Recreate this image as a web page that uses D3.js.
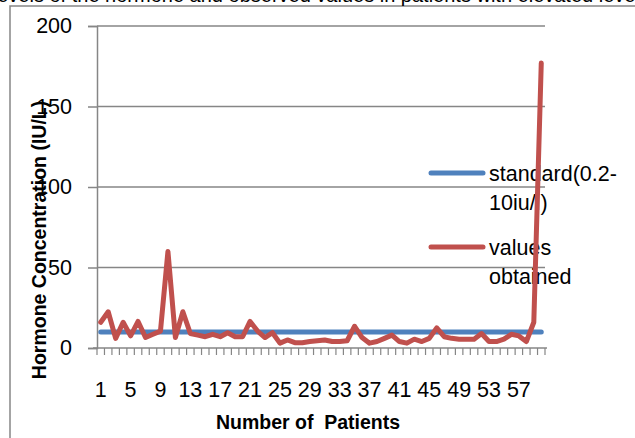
<!DOCTYPE html>
<html>
<head>
<meta charset="utf-8">
<script src="https://cdn.jsdelivr.net/npm/d3@7"></script>
<style>
  html, body { margin: 0; padding: 0; background: #fff; }
  svg { display: block; }
  text { font-family: "Liberation Sans", Arial, sans-serif; }
</style>
</head>
<body>
<svg id="chart" width="635" height="438"></svg>
<script>
// ---- data ----
const patients = d3.range(1, 61);
const standardValues = patients.map(() => 10);
const obtainedValues = [16, 22.5, 6, 16, 7.5, 16.5, 6.5, 8.5, 10.5, 60,
  6.5, 22.5, 9, 8, 7, 8.5, 7, 9.5, 7, 7,
  16.5, 10.5, 6.5, 9.5, 3, 5, 3.3, 3.3, 4, 4.5,
  5, 4, 4, 4.5, 13.5, 6.5, 3, 4, 6, 8,
  4, 3, 5.5, 4, 6, 12.5, 7, 6, 5.5, 5.5,
  5.5, 9, 4, 4, 5.5, 8.5, 7.5, 4, 16, 177];
const yTicks = [0, 50, 100, 150, 200];
const xTickLabels = [1, 5, 9, 13, 17, 21, 25, 29, 33, 37, 41, 45, 49, 53, 57];
const seriesNames = ["standard(0.2-\n10iu/l)", "values\nobtained"];
const seriesColors = ["#4F81BD", "#C0504D"];
const titleText = "Levels of the hormone and observed values in patients with elevated levels";
const xTitle = "Number of  Patients";
const yTitle = "Hormone Concentration (IU/L)";

// ---- layout ----
const svg = d3.select("#chart");
const pLeft = 97, pRight = 545, pTop = 26, pBottom = 348;
const x = d3.scaleBand().domain(patients).range([pLeft, pRight]).padding(0);
const y = d3.scaleLinear().domain([0, 200]).range([pBottom, pTop]);
const grid = "#868686";

// chart border
svg.append("rect").attr("x", 10).attr("y", 6).attr("width", 640).attr("height", 450)
  .attr("fill", "none").attr("stroke", grid).attr("stroke-width", 1.5);

// clipped title
svg.append("text").attr("x", 318).attr("y", 2).attr("text-anchor", "middle")
  .attr("font-size", 20).attr("fill", "#000").text(titleText);

// gridlines
svg.append("g").selectAll("line").data(yTicks.filter(d => d > 0)).join("line")
  .attr("x1", pLeft).attr("x2", pRight)
  .attr("y1", d => y(d)).attr("y2", d => y(d))
  .attr("stroke", grid).attr("stroke-width", 1.5);

// y axis
const yAxis = svg.append("g").attr("transform", `translate(${pLeft},0)`)
  .call(d3.axisLeft(y).tickValues(yTicks).tickSize(9).tickPadding(16));
yAxis.select(".domain").attr("stroke", grid).attr("stroke-width", 1.5);
yAxis.selectAll(".tick line").attr("stroke", grid).attr("stroke-width", 1.5);
yAxis.selectAll(".tick text").attr("font-size", 21.5).attr("fill", "#000")
  .attr("font-family", "Liberation Sans, Arial, sans-serif");

// x axis
const xAxis = svg.append("g").attr("transform", `translate(0,${pBottom})`)
  .call(d3.axisBottom(x).tickValues(xTickLabels).tickSize(0).tickPadding(34));
xAxis.select(".domain").attr("stroke", grid).attr("stroke-width", 1.5)
  .attr("d", `M${pLeft - 4},0H${pRight + 2}`);
xAxis.selectAll(".tick text").attr("font-size", 21.5).attr("fill", "#000")
  .attr("font-family", "Liberation Sans, Arial, sans-serif");
// category boundary ticks
const bounds = patients.map(p => x(p)).concat([x(60) + x.bandwidth()]);
svg.append("g").selectAll("line").data(bounds).join("line")
  .attr("x1", d => d).attr("x2", d => d)
  .attr("y1", pBottom).attr("y2", pBottom + 7)
  .attr("stroke", grid).attr("stroke-width", 1.2);

// axis titles
svg.append("text").attr("x", 308).attr("y", 429).attr("text-anchor", "middle")
  .attr("font-size", 19.5).attr("font-weight", "bold").attr("fill", "#000")
  .style("white-space", "pre").text(xTitle);
svg.append("text").attr("transform", "translate(46,240) rotate(-90)")
  .attr("text-anchor", "middle").attr("font-size", 19.5).attr("font-weight", "bold")
  .attr("fill", "#000").text(yTitle);

// legend
const legendY = [173, 247];
const lg = svg.append("g");
seriesNames.forEach((name, i) => {
  lg.append("line").attr("x1", 431).attr("x2", 483)
    .attr("y1", legendY[i]).attr("y2", legendY[i])
    .attr("stroke", seriesColors[i]).attr("stroke-width", 5).attr("stroke-linecap", "round");
  name.split("\n").forEach((ln, j) => {
    lg.append("text").attr("x", 489).attr("y", legendY[i] + 8 + j * 28.5)
      .attr("font-size", 21.5).attr("fill", "#000").text(ln);
  });
});

// lines
const line = d3.line().x((d, i) => x(patients[i]) + x.bandwidth() / 2).y(d => y(d));
[standardValues, obtainedValues].forEach((vals, i) => {
  svg.append("path").datum(vals).attr("d", line)
    .attr("fill", "none").attr("stroke", seriesColors[i]).attr("stroke-width", 5)
    .attr("stroke-linejoin", "round").attr("stroke-linecap", "round");
});
</script>
</body>
</html>
